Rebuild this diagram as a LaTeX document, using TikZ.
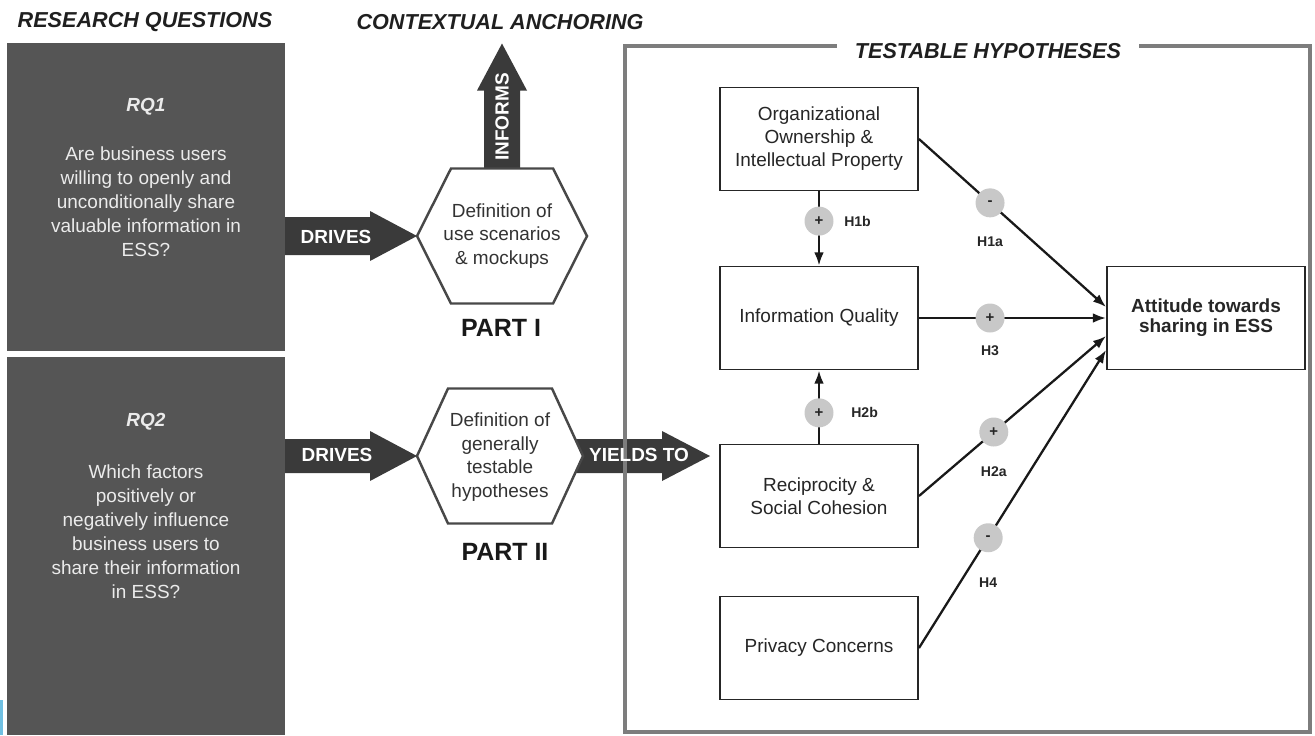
\documentclass[tikz,border=0pt]{standalone}
\usepackage{fontspec}
\setmainfont{Liberation Sans}
\usepackage{tikz}
\usetikzlibrary{arrows.meta,positioning}
\usepackage{xcolor}
\definecolor{rqgray}{RGB}{85,85,85}
\definecolor{arrowdark}{RGB}{58,58,58}
\definecolor{hexgray}{RGB}{72,72,72}
\definecolor{signgray}{RGB}{200,200,200}
\definecolor{framegray}{RGB}{125,125,125}
\definecolor{sliverblue}{RGB}{112,192,226}
\tikzset{
  rqbox/.style={fill=rqgray,inner sep=0pt},
  rqlabel/.style={text=white!92!black,font=\fontsize{10.8pt}{13.7pt}\selectfont\bfseries\itshape},
  rqtext/.style={text=white!92!black,align=center,font=\fontsize{10.8pt}{13.7pt}\selectfont},
  blockarrow/.style={fill=arrowdark},
  arrowtext/.style={text=white,font=\fontsize{10.8pt}{13pt}\selectfont\bfseries},
  hexshape/.style={draw=hexgray,fill=white,line width=1.4pt,line join=miter},
  hextext/.style={text=black!80,align=center,font=\fontsize{10.8pt}{13.5pt}\selectfont},
  parttext/.style={text=black!90,font=\fontsize{14.2pt}{16pt}\selectfont\bfseries},
  headtext/.style={text=black!88,font=\fontsize{12.3pt}{14pt}\selectfont\bfseries\itshape},
  framebox/.style={draw=framegray,line width=2.8pt},
  hbox/.style={draw=black!85,line width=1.1pt,fill=white,minimum width=3.96cm,minimum height=2.06cm,
    align=center,text=black!85,font=\fontsize{10.8pt}{13.1pt}\selectfont},
  signcirc/.style={circle,fill=signgray,minimum size=0.58cm,inner sep=0pt,text=black!85,
    font=\fontsize{8.5pt}{9pt}\selectfont\bfseries},
  hlabel/.style={text=black!85,font=\fontsize{8pt}{9pt}\selectfont\bfseries},
  hyparrow/.style={->,line width=1.3pt,draw=black!90},
}
\begin{document}
\begin{tikzpicture}[x=0.02cm,y=-0.02cm,>={Latex[length=7.5pt,width=5.5pt]}]
\useasboundingbox (0,0) rectangle (1315,735);
\fill[sliverblue] (0,700) rectangle (3,735);
% research questions
\node[headtext] (rqhead) at (145,22) {RESEARCH QUESTIONS};
\node[headtext] (cahead) at (500,22) {CONTEXTUAL ANCHORING};
\node[rqbox,minimum width=5.56cm,minimum height=6.16cm] (rq1) at (146,197) {};
\node[rqbox,minimum width=5.56cm,minimum height=7.56cm] (rq2) at (146,546) {};
\node[rqlabel] (rq1lab) at (146,107) {RQ1};
\node[rqtext] (rq1txt) at (146,202) {Are business users\\willing to openly and\\unconditionally share\\valuable information in\\ESS?};
\node[rqlabel] (rq2lab) at (146,422) {RQ2};
\node[rqtext] (rq2txt) at (146,532) {Which factors\\positively or\\negatively influence\\business users to\\share their information\\in ESS?};
% block arrows
\coordinate (hexAc) at (502,236);
\coordinate (hexBc) at (500,456);
\fill[blockarrow] (hexAc) ++(-85,0) coordinate (hexAW) -- ++(-47,-25) -- ++(0,6) -- ++(-85,0) -- ++(0,38) -- ++(85,0) -- ++(0,6) -- cycle;
\fill[blockarrow] (hexBc) ++(-83,0) coordinate (hexBW) -- ++(-47,-25) -- ++(0,8) -- ++(-85,0) -- ++(0,34) -- ++(85,0) -- ++(0,8) -- cycle;
\fill[blockarrow] (hexAc) ++(-18,-67.5) -- ++(0,-78) -- ++(-7,0) -- ++(25,-47) -- ++(25,47) -- ++(-7,0) -- ++(0,78) -- cycle;
\fill[blockarrow] (hexBc) ++(65,-17) -- ++(97,0) -- ++(0,-8) -- ++(48,25) -- ++(-48,25) -- ++(0,-8) -- ++(-97,0) -- cycle;
% hexagons
\filldraw[hexshape] (hexAc) ++(-85,0) -- ++(34,-67.5) -- ++(102,0) -- ++(34,67.5) -- ++(-34,67.5) -- ++(-102,0) -- cycle;
\filldraw[hexshape] (hexBc) ++(-83,0) -- ++(31,-67.5) -- ++(104,0) -- ++(31,67.5) -- ++(-31,67.5) -- ++(-104,0) -- cycle;
\node[hextext] (hexA) at (hexAc) {Definition of\\use scenarios\\\& mockups};
\node[hextext] (hexB) at (500,457) {Definition of\\generally\\testable\\hypotheses};
\node[parttext] (partA) at (501,328) {PART I};
\node[parttext] (partB) at (505,552) {PART II};
% testable hypotheses
\draw[framebox] (625,46) rectangle (1310,732);
\node[headtext,fill=white,inner xsep=10pt] (thhead) at (988,51) {TESTABLE HYPOTHESES};
\node[arrowtext] (drivesA) at (336,237) {DRIVES};
\node[arrowtext] (drivesB) at (337,455) {DRIVES};
\node[arrowtext,rotate=90] (informs) at (502,117) {INFORMS};
\node[arrowtext] (yields) at (639,455) {YIELDS TO};
\node[hbox] (org) at (819,139) {Organizational\\Ownership \&\\Intellectual Property};
\node[hbox] (iq) at (819,318) {Information Quality};
\node[hbox] (recip) at (819,496) {Reciprocity \&\\Social Cohesion};
\node[hbox] (priv) at (819,648) {Privacy Concerns};
\node[hbox,font=\fontsize{10.8pt}{11.4pt}\selectfont\bfseries] (att) at (1206,318) {Attitude towards\\sharing in ESS};
\draw[hyparrow] (org) -- node[signcirc,pos=0.4,label={[hlabel,label distance=1.5pt]right:H1b}] (s1b) {+} (iq);
\draw[hyparrow] (recip) -- node[signcirc,pos=0.42,label={[hlabel,label distance=5.5pt]right:H2b}] (s2b) {+} (iq);
\draw[hyparrow] (org.east) -- node[signcirc,pos=0.38,label={[hlabel,label distance=6.7pt]below:H1a}] (s1a) {-} ([yshift=0.22cm]att.west);
\draw[hyparrow] (iq.east) -- node[signcirc,pos=0.38,label={[hlabel,label distance=3pt]below:H3}] (s3) {+} (att.west);
\draw[hyparrow] (recip.east) -- node[signcirc,pos=0.4,label={[hlabel,label distance=7pt]below:H2a}] (s2a) {+} ([yshift=-0.36cm]att.west);
\draw[hyparrow] (priv.east) -- node[signcirc,pos=0.37,label={[hlabel,label distance=10pt]below:H4}] (s4) {-} ([yshift=-0.64cm]att.west);
\end{tikzpicture}
\end{document}
